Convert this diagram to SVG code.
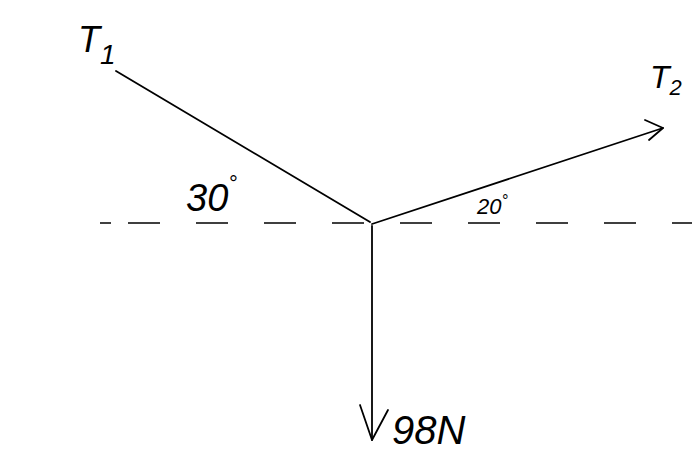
<svg xmlns="http://www.w3.org/2000/svg" width="697" height="452" viewBox="0 0 697 452">
<style>
.ln{stroke:#000;stroke-width:1.8;fill:none;stroke-linecap:round;stroke-linejoin:round}
.dash{stroke:#000;stroke-width:1.5;fill:none;stroke-dasharray:32 36}
.lbl{font-family:"Liberation Sans",Arial,sans-serif;font-style:italic;fill:#000}
</style>
<rect width="697" height="452" fill="#fff"/>
<g id="axis">
<line class="dash" x1="100" y1="223" x2="111" y2="223"/>
<line class="dash" x1="128" y1="223" x2="692" y2="223"/>
</g>
<g id="connectors">
<path id="t1" class="ln" d="M116 71 L370 222"/>
<path id="t2" class="ln" d="M372 224 L663 128"/>
<path id="t2head" class="ln" d="M645 120 L663 128 L649 140"/>
<path id="w" class="ln" d="M372 226 L372 440"/>
<path id="whead" class="ln" d="M360 405 L372 440 L388 410"/>
</g>
<g id="label-T1"><text class="lbl" x="78" y="52" font-size="36">T<tspan font-size="28" dy="12">1</tspan></text></g>
<g id="label-T2"><text class="lbl" x="650" y="88" font-size="32">T<tspan font-size="22" dy="7">2</tspan></text></g>
<g id="label-30"><text class="lbl" x="186" y="211" font-size="38">30<tspan font-size="22" dy="-20">°</tspan></text></g>
<g id="label-20"><text class="lbl" x="477" y="214" font-size="22">20<tspan font-size="16" dy="-8">°</tspan></text></g>
<g id="label-98N"><text class="lbl" x="392" y="444" font-size="40">98N</text></g>
</svg>
